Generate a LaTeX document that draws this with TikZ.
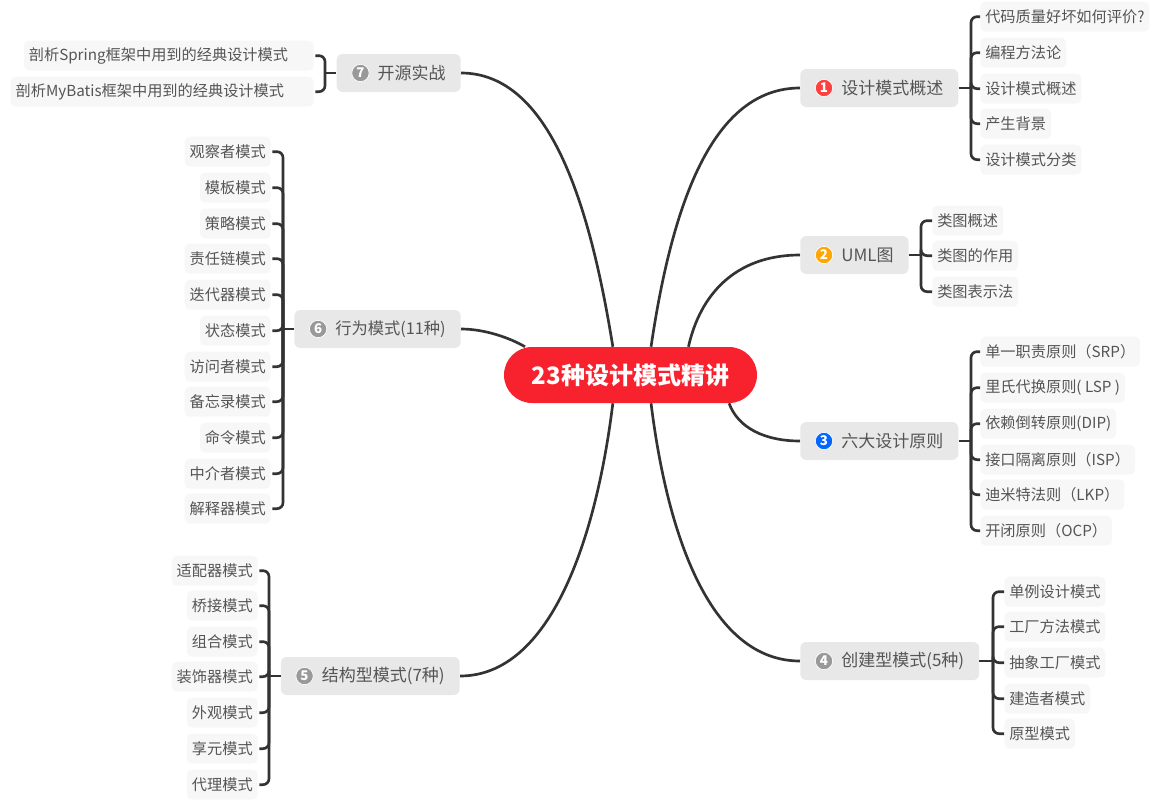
\documentclass[tikz,border=0pt]{standalone}
\usepackage{fontspec}
\setmainfont{Noto Sans CJK SC}
\usepackage{xcolor}
\usetikzlibrary{positioning,backgrounds}
\definecolor{hubred}{HTML}{F8212E}
\definecolor{inkgray}{HTML}{555555}
\definecolor{linegray}{HTML}{333333}

\begin{document}
\begin{tikzpicture}[
    x=0.75pt, y=-0.75pt,
    hub/.style={fill=hubred, rounded corners=21pt, minimum width=189.75pt, minimum height=42pt, inner sep=0pt, text=white, font=\fontsize{18}{22}\selectfont\bfseries},
    branch/.style={fill=gray!18, rounded corners=4.5pt, minimum height=28.5pt, inner xsep=11.25pt, inner ysep=0pt, text=inkgray, font=\fontsize{12.75}{15}\selectfont},
    leaf/.style={fill=gray!6, rounded corners=3.75pt, minimum height=22.5pt, inner xsep=3.75pt, inner ysep=0pt, yshift=-0.5pt, text=inkgray, font=\fontsize{11.4}{13}\selectfont},
    badge/.style={circle, draw=white, line width=0.5pt, minimum size=13pt, inner sep=0pt, text=white, font=\fontsize{10}{10}\selectfont\bfseries},
    limb/.style={draw=linegray, line width=2pt},
    twig/.style={draw=linegray, line width=2pt, rounded corners=4.5pt},
]
    \useasboundingbox (0,0) rectangle (1164,807);

    \node[hub] (hub) at (630.5,375) {23种设计模式精讲};

    % Branches
    \node[branch, anchor=west] (overview) at (800,88) {\hspace*{19.5pt}设计模式概述};
    \node[branch, anchor=west] (uml) at (800,255) {\hspace*{19.5pt}UML图};
    \node[branch, anchor=west] (principle) at (800,441) {\hspace*{19.5pt}六大设计原则};
    \node[branch, anchor=west] (creational) at (800,661) {\hspace*{19.5pt}创建型模式(5种)};
    \node[branch, anchor=east] (structural) at (460,676) {\hspace*{19.5pt}结构型模式(7种)};
    \node[branch, anchor=east, font=\fontsize{12.2}{15}\selectfont] (behavioral) at (461,329) {\hspace*{19.5pt}行为模式(11种)};
    \node[branch, anchor=east] (practice) at (461,73) {\hspace*{19.5pt}开源实战};

    \node[badge, fill=red!75!white, right=11.25pt of overview.west] {1};
    \node[badge, fill=orange!70!yellow, right=11.25pt of uml.west] {2};
    \node[badge, fill=blue!60!cyan, right=11.25pt of principle.west] {3};
    \node[badge, fill=gray!80, right=11.25pt of creational.west] {4};
    \node[badge, fill=gray!80, right=11.25pt of structural.west] {5};
    \node[badge, fill=gray!80, right=11.25pt of behavioral.west] {6};
    \node[badge, fill=gray!80, right=11.25pt of practice.west] {7};

    % Hub connectors
    \begin{scope}[on background layer]
        \draw[limb] (hub.54.5) .. controls (672,205) and (712,88) .. (overview.west);
        \draw[limb] (hub.26.6) .. controls (700,295) and (735,255) .. (uml.west);
        \draw[limb] (hub.-16.4) .. controls (738,428) and (765,441) .. (principle.west);
        \draw[limb] (hub.-54.5) .. controls (668,540) and (712,661) .. (creational.west);
        \draw[limb] (hub.-122.7) .. controls (596,540) and (550,676) .. (structural.east);
        \draw[limb] (hub.165) .. controls (510,338) and (485,329) .. (behavioral.east);
        \draw[limb] (hub.122.7) .. controls (590,205) and (550,73) .. (practice.east);
    \end{scope}

    % Overview leaves
    \node[leaf, anchor=west] (ova) at (980,16) {代码质量好坏如何评价?};
    \node[leaf, anchor=west] (ovb) at (980,52) {编程方法论};
    \node[leaf, anchor=west] (ovc) at (980,88) {设计模式概述};
    \node[leaf, anchor=west] (ovd) at (980,123) {产生背景};
    \node[leaf, anchor=west] (ove) at (980,159) {设计模式分类};
    \coordinate (ovtrunk) at (971,88);
    \draw[limb] (overview) -- (ovtrunk);
    \draw[twig] (ovtrunk) |- (ova.west);
    \draw[twig] (ovtrunk) |- (ovb.west);
    \draw[twig] (ovtrunk) |- (ovc.west);
    \draw[twig] (ovtrunk) |- (ovd.west);
    \draw[twig] (ovtrunk) |- (ove.west);

    % UML leaves
    \node[leaf, anchor=west] (uma) at (932,220) {类图概述};
    \node[leaf, anchor=west] (umb) at (932,255) {类图的作用};
    \node[leaf, anchor=west] (umc) at (932,291) {类图表示法};
    \coordinate (umtrunk) at (921,255);
    \draw[limb] (uml) -- (umtrunk);
    \draw[twig] (umtrunk) |- (uma.west);
    \draw[twig] (umtrunk) |- (umb.west);
    \draw[twig] (umtrunk) |- (umc.west);

    % Principle leaves
    \node[leaf, anchor=west] (pra) at (980,351) {单一职责原则（SRP）};
    \node[leaf, anchor=west] (prb) at (980,387) {里氏代换原则( LSP )};
    \node[leaf, anchor=west] (prc) at (980,423) {依赖倒转原则(DIP)};
    \node[leaf, anchor=west] (prd) at (980,459) {接口隔离原则（ISP）};
    \node[leaf, anchor=west] (pre) at (980,494) {迪米特法则（LKP）};
    \node[leaf, anchor=west] (prf) at (980,530) {开闭原则（OCP）};
    \coordinate (prtrunk) at (971,441);
    \draw[limb] (principle) -- (prtrunk);
    \draw[twig] (prtrunk) |- (pra.west);
    \draw[twig] (prtrunk) |- (prb.west);
    \draw[twig] (prtrunk) |- (prc.west);
    \draw[twig] (prtrunk) |- (prd.west);
    \draw[twig] (prtrunk) |- (pre.west);
    \draw[twig] (prtrunk) |- (prf.west);

    % Creational leaves
    \node[leaf, anchor=west] (cra) at (1004,591) {单例设计模式};
    \node[leaf, anchor=west] (crb) at (1004,626) {工厂方法模式};
    \node[leaf, anchor=west] (crc) at (1004,662) {抽象工厂模式};
    \node[leaf, anchor=west] (crd) at (1004,698) {建造者模式};
    \node[leaf, anchor=west] (cre) at (1004,733) {原型模式};
    \coordinate (crtrunk) at (993,661);
    \draw[limb] (creational) -- (crtrunk);
    \draw[twig] (crtrunk) |- (cra.west);
    \draw[twig] (crtrunk) |- (crb.west);
    \draw[twig] (crtrunk) |- (crc.west);
    \draw[twig] (crtrunk) |- (crd.west);
    \draw[twig] (crtrunk) |- (cre.west);

    % Structural leaves
    \node[leaf, anchor=east] (sta) at (258,570) {适配器模式};
    \node[leaf, anchor=east] (stb) at (258,605) {桥接模式};
    \node[leaf, anchor=east] (stc) at (258,641) {组合模式};
    \node[leaf, anchor=east] (std) at (258,676) {装饰器模式};
    \node[leaf, anchor=east] (ste) at (258,712) {外观模式};
    \node[leaf, anchor=east] (stf) at (258,748) {享元模式};
    \node[leaf, anchor=east] (stg) at (258,784) {代理模式};
    \coordinate (sttrunk) at (269,676);
    \draw[limb] (structural) -- (sttrunk);
    \draw[twig] (sttrunk) |- ([xshift=1pt]sta.east);
    \draw[twig] (sttrunk) |- ([xshift=1pt]stb.east);
    \draw[twig] (sttrunk) |- ([xshift=1pt]stc.east);
    \draw[twig] (sttrunk) |- ([xshift=1pt]std.east);
    \draw[twig] (sttrunk) |- ([xshift=1pt]ste.east);
    \draw[twig] (sttrunk) |- ([xshift=1pt]stf.east);
    \draw[twig] (sttrunk) |- ([xshift=1pt]stg.east);

    % Behavioral leaves
    \node[leaf, anchor=east] (bea) at (271,151) {观察者模式};
    \node[leaf, anchor=east] (beb) at (271,187) {模板模式};
    \node[leaf, anchor=east] (bec) at (271,223) {策略模式};
    \node[leaf, anchor=east] (bed) at (271,258) {责任链模式};
    \node[leaf, anchor=east] (bee) at (271,294) {迭代器模式};
    \node[leaf, anchor=east] (bef) at (271,330) {状态模式};
    \node[leaf, anchor=east] (beg) at (271,366) {访问者模式};
    \node[leaf, anchor=east] (beh) at (271,401) {备忘录模式};
    \node[leaf, anchor=east] (bei) at (271,437) {命令模式};
    \node[leaf, anchor=east] (bej) at (271,473) {中介者模式};
    \node[leaf, anchor=east] (bek) at (271,508) {解释器模式};
    \coordinate (betrunk) at (283,329);
    \draw[limb] (behavioral) -- (betrunk);
    \draw[twig] (betrunk) |- ([xshift=1pt]bea.east);
    \draw[twig] (betrunk) |- ([xshift=1pt]beb.east);
    \draw[twig] (betrunk) |- ([xshift=1pt]bec.east);
    \draw[twig] (betrunk) |- ([xshift=1pt]bed.east);
    \draw[twig] (betrunk) |- ([xshift=1pt]bee.east);
    \draw[twig] (betrunk) |- ([xshift=1pt]bef.east);
    \draw[twig] (betrunk) |- ([xshift=1pt]beg.east);
    \draw[twig] (betrunk) |- ([xshift=1pt]beh.east);
    \draw[twig] (betrunk) |- ([xshift=1pt]bei.east);
    \draw[twig] (betrunk) |- ([xshift=1pt]bej.east);
    \draw[twig] (betrunk) |- ([xshift=1pt]bek.east);

    % Practice leaves
    \node[leaf, anchor=east] (paa) at (314,55) {剖析Spring框架中用到的经典设计模式\hspace*{15.5pt}};
    \node[leaf, anchor=east] (pab) at (314,91) {剖析MyBatis框架中用到的经典设计模式\hspace*{18.5pt}};
    \coordinate (patrunk) at (325,73);
    \draw[limb] (practice) -- (patrunk);
    \draw[twig] (patrunk) |- ([xshift=1pt]paa.east);
    \draw[twig] (patrunk) |- ([xshift=1pt]pab.east);
\end{tikzpicture}
\end{document}
